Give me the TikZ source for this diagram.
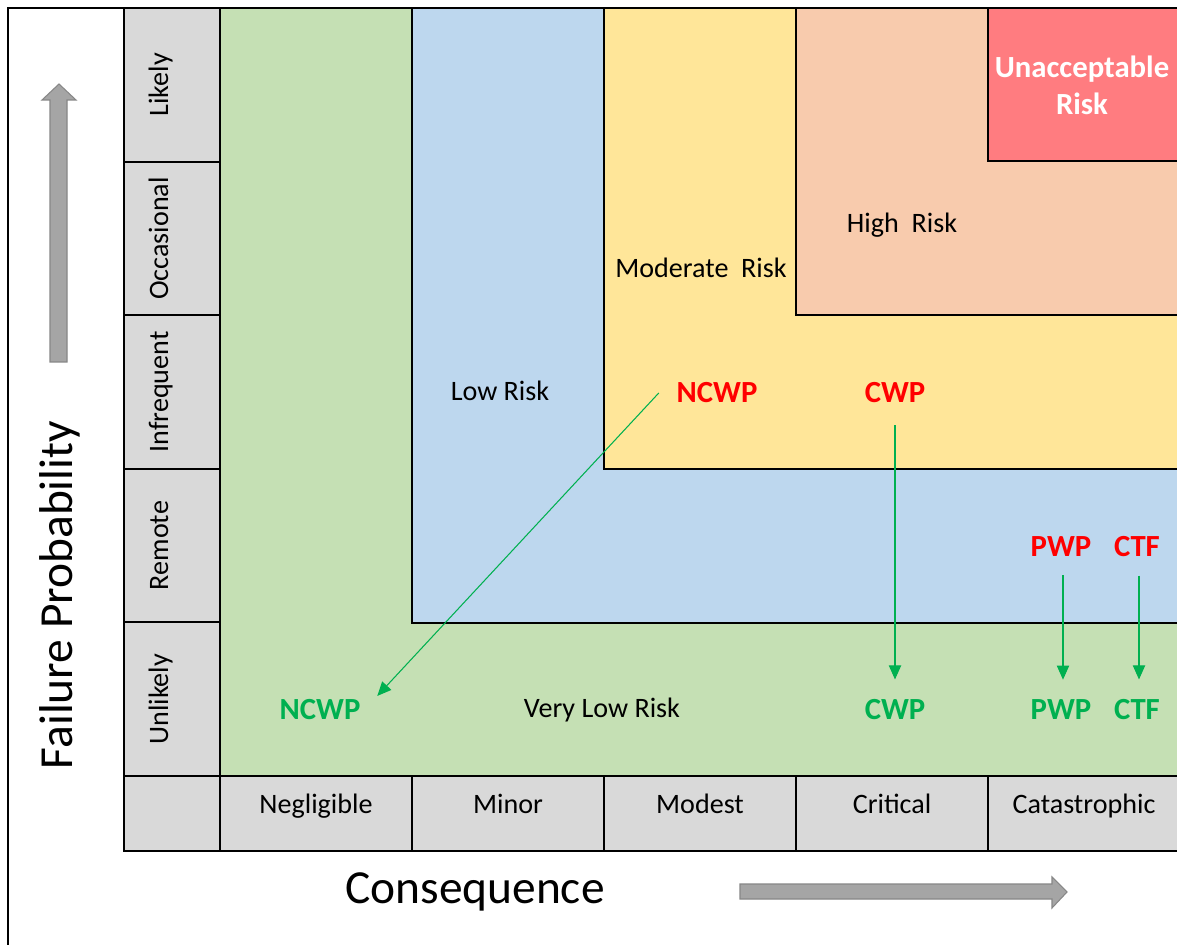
\documentclass[tikz,border=0pt]{standalone}
\usepackage{fontspec}
\setmainfont{Carlito}
\usetikzlibrary{arrows.meta}

\begin{document}
\begin{tikzpicture}[x=0.02cm,y=-0.02cm,
        zone/.style={draw=black,line width=1.1pt},
        cell/.style={draw=black,line width=1.1pt,fill=cellgray},
        lab/.style={font=\fontsize{16}{19}\selectfont,inner sep=2pt,text height=12pt,text depth=4pt},
        hit/.style={font=\fontsize{17.5}{21}\selectfont\bfseries,inner sep=2pt},
        flow/.style={draw=flowgreen,line width=0.6pt,-{Triangle[length=8pt,width=7pt]}},
        blockarrow/.style={fill=arrowgray,draw=arrowedge,line width=0.6pt}]
        % Define colors
        \definecolor{verylow}{RGB}{197,224,180}
        \definecolor{lowrisk}{RGB}{189,215,238}
        \definecolor{modrisk}{RGB}{255,230,153}
        \definecolor{highrisk}{RGB}{248,203,173}
        \definecolor{unaccrisk}{RGB}{255,124,128}
        \definecolor{cellgray}{RGB}{217,217,217}
        \definecolor{arrowgray}{RGB}{165,165,165}
        \definecolor{arrowedge}{RGB}{135,135,135}
        \definecolor{flowgreen}{RGB}{0,176,80}
        \definecolor{flowred}{RGB}{255,0,0}

        \useasboundingbox (0,0) rectangle (1177,945);
        \clip (0,0) rectangle (1177,945);
        \fill[white] (0,0) rectangle (1177,945);

        % Outer frame
        \draw[line width=1pt] (8,950) -- (8,8) -- (1185,8);

        % Risk zones
        \draw[zone,fill=verylow] (220,8) rectangle (1185,776);
        \draw[zone,fill=lowrisk] (412,8) rectangle (1185,623);
        \draw[zone,fill=modrisk] (604,8) rectangle (1185,469);
        \draw[zone,fill=highrisk] (796,8) rectangle (1185,315);
        \draw[zone,fill=unaccrisk] (988,8) rectangle (1185,161);

        % Probability cells
        \foreach \lab [count=\i] in {Likely,Occasional,Infrequent,Remote,Unlikely} {
            \draw[cell] (124,{8+(\i-1)*153.6}) rectangle ++(96,153.6);
            \node[lab,rotate=90] (row\i) at (161,{84.8+(\i-1)*153.6}) {\lab};
        }

        % Consequence cells
        \draw[cell] (124,776) rectangle (220,851);
        \foreach \lab [count=\i] in {Negligible,Minor,Modest,Critical,Catastrophic} {
            \draw[cell] ({220+(\i-1)*192},776) rectangle ++(192,75);
            \node[lab] (col\i) at ({316+(\i-1)*192},806) {\lab};
        }

        % Zone labels
        \node[lab] (verylowlab) at (602,710) {Very Low Risk};
        \node[lab] (lowlab) at (500,393) {Low Risk};
        \node[lab] (modlab) at (701,270) {Moderate~~Risk};
        \node[lab] (highlab) at (902,225) {High~~Risk};
        \node[hit,white,align=center] (unacclab) at (1082,85) {Unacceptable\\Risk};

        % Before and after
        \node[hit,text=flowred] (ncwpA) at (717,393) {NCWP};
        \node[hit,text=flowred] (cwpA) at (895,393) {CWP};
        \node[hit,text=flowred] (pwpA) at (1061,547) {PWP};
        \node[hit,text=flowred] (ctfA) at (1137,547) {CTF};
        \node[hit,text=flowgreen] (ncwpB) at (320,710) {NCWP};
        \node[hit,text=flowgreen] (cwpB) at (895,710) {CWP};
        \node[hit,text=flowgreen] (pwpB) at (1061,710) {PWP};
        \node[hit,text=flowgreen] (ctfB) at (1137,710) {CTF};

        \draw[flow] ([xshift=-0.28cm]ncwpA.west) -- ([xshift=0.26cm]ncwpB.north east);
        \draw[flow,shorten <=0.36cm,shorten >=0.33cm] (cwpA.south) -- (cwpB.north);
        \draw[flow,shorten <=0.29cm,shorten >=0.33cm] ([xshift=0.04cm]pwpA.south) -- ([xshift=0.04cm]pwpB.north);
        \draw[flow,shorten <=0.29cm,shorten >=0.33cm] ([xshift=0.04cm]ctfA.south) -- ([xshift=0.04cm]ctfB.north);

        % Axis arrows
        \draw[blockarrow] (50,362) -- (50,100) -- (42,100) -- (59,84) -- (76,100) -- (67,100) -- (67,362) -- cycle;
        \draw[blockarrow] (740,884) -- (1052,884) -- (1052,877) -- (1067,892) -- (1052,908) -- (1052,899) -- (740,899) -- cycle;

        % Axis titles
        \node[font=\fontsize{27}{32}\selectfont,rotate=90] (probtitle) at (60,595) {Failure Probability};
        \node[font=\fontsize{27}{32}\selectfont] (constitle) at (475,892) {Consequence};
    \end{tikzpicture}
\end{document}
